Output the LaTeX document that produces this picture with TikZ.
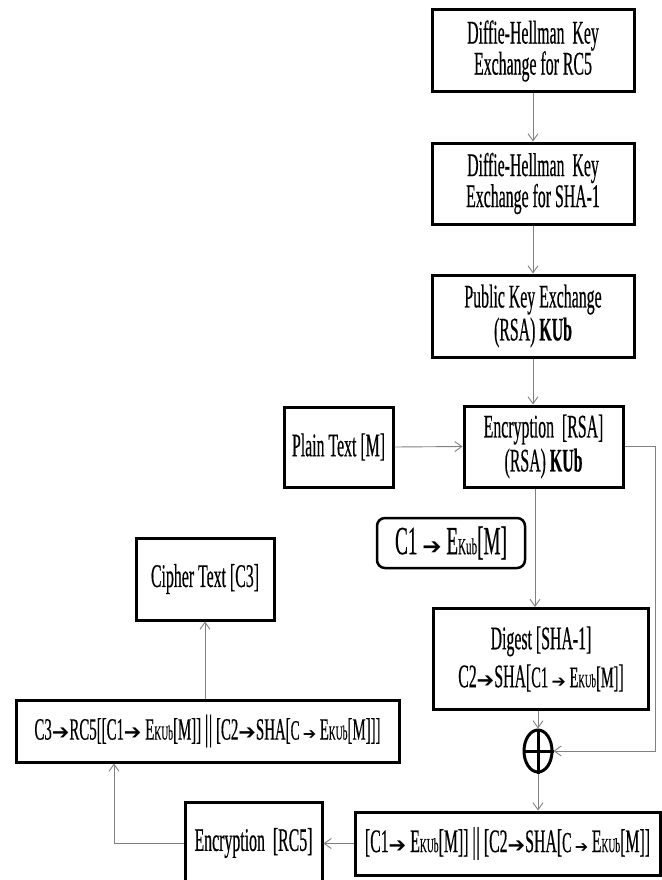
\documentclass[tikz,border=0pt]{standalone}
\usepackage{fontspec}
\setmainfont{Liberation Serif}
\newfontfamily\cf[FakeStretch=0.48,FakeBold=0.4]{Liberation Serif}
\newfontfamily\djv{DejaVu Sans}
\usetikzlibrary{arrows.meta,shapes.geometric}
\newcommand\fs[2]{\fontsize{#1}{#2}\selectfont}
\newcommand\Ar[1][20]{{\djv\fontsize{#1}{#1}\selectfont ➔}}
\newcommand\Sb[2][20]{{\fontsize{#1}{#1}\selectfont #2}}
\newcommand\Bars{{\fs{36}{36}\textbar\kern0.5pt\textbar}}
\tikzset{
  box/.style={draw, line width=3pt, align=center, inner sep=0pt,
    font=\cf\fs{33}{31}},
  conn/.style={draw=gray, line width=0.9pt, -{Straight Barb[length=7pt,width=10pt]}},
}
\begin{document}
\begin{tikzpicture}[x=1pt,y=-1pt]
\useasboundingbox (0,0) rectangle (661,880);
\node[box, minimum width=202, minimum height=82] (dh1) at (533,51)
  {Diffie-Hellman\ \ Key\\Exchange for RC5};
\node[box, minimum width=202, minimum height=81] (dh2) at (533,183.5)
  {Diffie-Hellman\ \ Key\\Exchange for SHA-1};
\node[box, minimum width=202, minimum height=82, font=\cf\fs{33}{33}] (pke) at (533,316)
  {Public Key Exchange\\(RSA) \textbf{KUb}};
\node[box, minimum width=159, minimum height=81, font=\cf\fs{33}{34}] (enc) at (543.5,446.5)
  {Encryption\ \ [RSA]\\(RSA) \textbf{KUb}};
\node[box, minimum width=109, minimum height=80] (plain) at (338.5,447)
  {Plain Text [M]};
\node[box, line width=2.5pt, rounded corners=8pt, minimum width=148, minimum height=50,
  font=\cf\fs{40}{40}] (c1) at (451,543)
  {C1 \Ar[23] E\Sb[23]{Kub}[M]};
\node[box, minimum width=215, minimum height=101, font=\cf\fs{33}{38}] (dig) at (541,659)
  {Digest [SHA-1]\\C2\Ar[21]SHA[{\fs{30}{30}C1 \Ar[17] E\Sb[19]{KUb}[M]}]};
\node[ellipse, draw, line width=3pt, minimum width=28, minimum height=42,
  inner sep=0pt] (xor) at (538,751) {};
\draw[line width=3pt] (xor.north) -- (xor.south) (xor.west) -- (xor.east);
\node[box, minimum width=305, minimum height=63, font=\cf\fs{33}{36}] (cat) at (507.5,843.5)
  {[C1\Ar[21] E\Sb{KUb}[M]] \Bars{} [C2\Ar[21]SHA[{\fs{29}{29}C \Ar[16] }E\Sb{KUb}[M]]};
\node[box, minimum width=137, minimum height=82, font=\cf\fs{33}{33}] (rc5) at (253.5,843)
  {Encryption\ \ [RC5]};
\node[box, minimum width=383, minimum height=62, font=\cf\fs{31}{34}] (c3) at (207.5,731)
  {C3\Ar[21]RC5[[C1\Ar[21] E\Sb{KUb}[M]] \Bars{} [C2\Ar[21]SHA[{\fs{28}{28}C \Ar[16] }E\Sb{KUb}[M]]]};
\node[box, minimum width=138, minimum height=82] (cipher) at (205,579)
  {Cipher Text [C3]};
% connectors
\draw[conn] (dh1.south) -- (dh2.north);
\draw[conn] (dh2.south) -- (pke.north);
\draw[conn] (pke.south) -- (pke.south |- enc.north);
\draw[conn] (plain.east) -- (enc.west);
\coordinate (rt) at (655,751);
\draw[conn] (enc.east) -| (rt) -- (xor.east);
\draw[conn] ([xshift=-8.5pt]enc.south) -- ([xshift=-8.5pt]enc.south |- dig.north);
\draw[conn] (xor.north |- dig.south) -- (xor.north);
\draw[conn] (xor.south) -- (xor.south |- cat.north);
\draw[conn] (cat.west) -- (cat.west -| rc5.east);
\coordinate (lb) at (114,843);
\draw[conn] (rc5.west) -- (lb) -- (lb |- c3.south);
\draw[conn] (cipher.south |- c3.north) -- (cipher.south);
\end{tikzpicture}
\end{document}
